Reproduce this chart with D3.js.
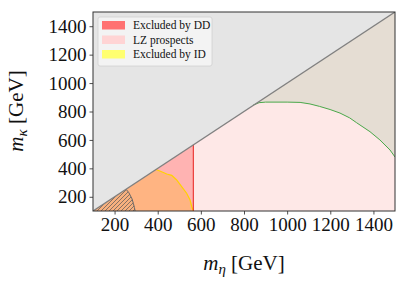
<!DOCTYPE html>
<html>
<head>
<meta charset="utf-8">
<script src="https://cdn.jsdelivr.net/npm/d3@7"></script>
<style>
  body { margin: 0; background: #fff; }
  text { font-family: "Liberation Serif", "DejaVu Serif", serif; fill: #111; }
</style>
</head>
<body>
<div id="chart"></div>
<script>
// axis ranges and ticks (GeV)
var domainX = [100, 1500];
var domainY = [100, 1500];
var ticksX = [200, 400, 600, 800, 1000, 1200, 1400];
var ticksY = [200, 400, 600, 800, 1000, 1200, 1400];

// direct detection limit on m_eta
var ddLimit = 565;
// indirect detection boundary [m_eta, m_kappa]
var idCurve = [[392,392],[418,376],[442,360],[465,351],[488,318],[511,271],[534,225],[550,177],[558,130],[565,100]];
// hatched region boundary
var hatchCurve = [[253,253],[265,232],[272,212],[281,185],[287,154],[292,125],[295,100]];
// LZ prospects boundary
var lzCurve = [[843,845],[870,862],[900,866],[1000,866],[1060,864],[1106,853],[1150,836],[1199,814],[1245,789],[1290,755],[1322,721],[1384,658],[1430,600],[1477,529],[1500,480]];

var legendLabels = ['Excluded by DD', 'LZ prospects', 'Excluded by ID'];
var legendColors = ['#ff7171', '#ffd4d4', '#ffff70'];

var W = 407, H = 284;
var x = d3.scaleLinear().domain(domainX).range([93, 395]);
var y = d3.scaleLinear().domain(domainY).range([211, 12]);

var svg = d3.select('#chart').append('svg')
    .attr('width', W).attr('height', H);

var defs = svg.append('defs');
defs.append('clipPath').attr('id', 'clip')
  .append('rect').attr('x', x(domainX[0])).attr('y', y(domainY[1]))
  .attr('width', x(domainX[1]) - x(domainX[0]))
  .attr('height', y(domainY[0]) - y(domainY[1]));

var pat = defs.append('pattern').attr('id', 'hatch')
    .attr('patternUnits', 'userSpaceOnUse')
    .attr('width', 4).attr('height', 4);
pat.append('rect').attr('width', 4).attr('height', 4).attr('fill', '#f7b07e');
pat.append('path').attr('d', 'M-1,1 l2,-2 M0,4 l4,-4 M3,5 l2,-2')
    .attr('stroke', '#7a6a60').attr('stroke-width', 0.9);

var line = d3.line().x(function(d){ return x(d[0]); }).y(function(d){ return y(d[1]); });
function poly(pts) { return line(pts) + 'Z'; }

var g = svg.append('g').attr('clip-path', 'url(#clip)');
var lo = domainX[0], hi = domainX[1];

// above the diagonal
g.append('path').attr('d', poly([[lo,lo],[lo,hi],[hi,hi]])).attr('fill', '#e5e5e5');
// below the diagonal
g.append('path').attr('d', poly([[lo,lo],[hi,hi],[hi,lo]])).attr('fill', '#fee8e7');
// LZ region above the curve
g.append('path').attr('d', poly(lzCurve.concat([[hi,hi]]))).attr('fill', '#e5ddd3');
// DD excluded
g.append('path').attr('d', poly([[lo,lo],[ddLimit,ddLimit],[ddLimit,lo]])).attr('fill', '#ffb3b2');
// ID excluded
g.append('path').attr('d', poly([[lo,lo]].concat(idCurve))).attr('fill', '#ffb482');
// hatched
g.append('path').attr('d', poly([[lo,lo]].concat(hatchCurve))).attr('fill', 'url(#hatch)');

// boundaries
g.append('path').attr('d', line(hatchCurve)).attr('fill', 'none').attr('stroke', '#666').attr('stroke-width', 1);
g.append('path').attr('d', line(idCurve)).attr('fill', 'none').attr('stroke', '#ffd200').attr('stroke-width', 1.2);
g.append('path').attr('d', line([[ddLimit,lo],[ddLimit,ddLimit]])).attr('fill', 'none').attr('stroke', '#e8201c').attr('stroke-width', 1);
g.append('path').attr('d', line(lzCurve)).attr('fill', 'none').attr('stroke', '#4aa84a').attr('stroke-width', 1);
g.append('path').attr('d', line([[lo,lo],[hi,hi]])).attr('fill', 'none').attr('stroke', '#808080').attr('stroke-width', 1.3);

// axes
var xAxis = svg.append('g').attr('transform', 'translate(0,' + y(domainY[0]) + ')')
    .call(d3.axisBottom(x).tickValues(ticksX).tickSize(3.5).tickPadding(3).tickFormat(d3.format('d')));
var yAxis = svg.append('g').attr('transform', 'translate(' + x(domainX[0]) + ',0)')
    .call(d3.axisLeft(y).tickValues(ticksY).tickSize(3.5).tickPadding(3).tickFormat(d3.format('d')));
[xAxis, yAxis].forEach(function(a) {
  a.select('.domain').remove();
  a.selectAll('line').attr('stroke', '#222').attr('stroke-width', 0.8);
  a.selectAll('text').attr('font-size', 19).attr('font-family', '"Liberation Serif", serif').attr('fill', '#111');
});

// frame
svg.append('rect').attr('x', x(domainX[0])).attr('y', y(domainY[1]))
  .attr('width', x(domainX[1]) - x(domainX[0]))
  .attr('height', y(domainY[0]) - y(domainY[1]))
  .attr('fill', 'none').attr('stroke', '#333').attr('stroke-width', 1);

// axis labels
var xl = svg.append('text').attr('x', 244).attr('y', 270).attr('text-anchor', 'middle').attr('font-size', 21);
xl.append('tspan').attr('font-style', 'italic').text('m');
xl.append('tspan').attr('font-style', 'italic').attr('font-size', 15).attr('dy', 4).text('η');
xl.append('tspan').attr('dy', -4).text(' [GeV]');

var yl = svg.append('text').attr('transform', 'translate(23,111) rotate(-90)')
    .attr('text-anchor', 'middle').attr('font-size', 21);
yl.append('tspan').attr('font-style', 'italic').text('m');
yl.append('tspan').attr('font-style', 'italic').attr('font-size', 15).attr('dy', 4).text('κ');
yl.append('tspan').attr('dy', -4).text(' [GeV]');

// legend
var lg = svg.append('g');
lg.append('rect').attr('x', 98).attr('y', 17).attr('width', 114).attr('height', 49).attr('rx', 2)
  .attr('fill', '#f4f4f4').attr('fill-opacity', 0.9).attr('stroke', '#d0d0d0').attr('stroke-width', 0.8);
var items = lg.selectAll('g.item').data(legendLabels).enter().append('g')
  .attr('transform', function(d, i){ return 'translate(0,' + (21 + i * 14.5) + ')'; });
items.append('rect').attr('x', 102).attr('y', 0).attr('width', 23).attr('height', 8.5)
  .attr('fill', function(d, i){ return legendColors[i]; });
items.append('text').attr('x', 133).attr('y', 8.3).attr('font-size', 11.5).text(function(d){ return d; });
</script>
</body>
</html>
